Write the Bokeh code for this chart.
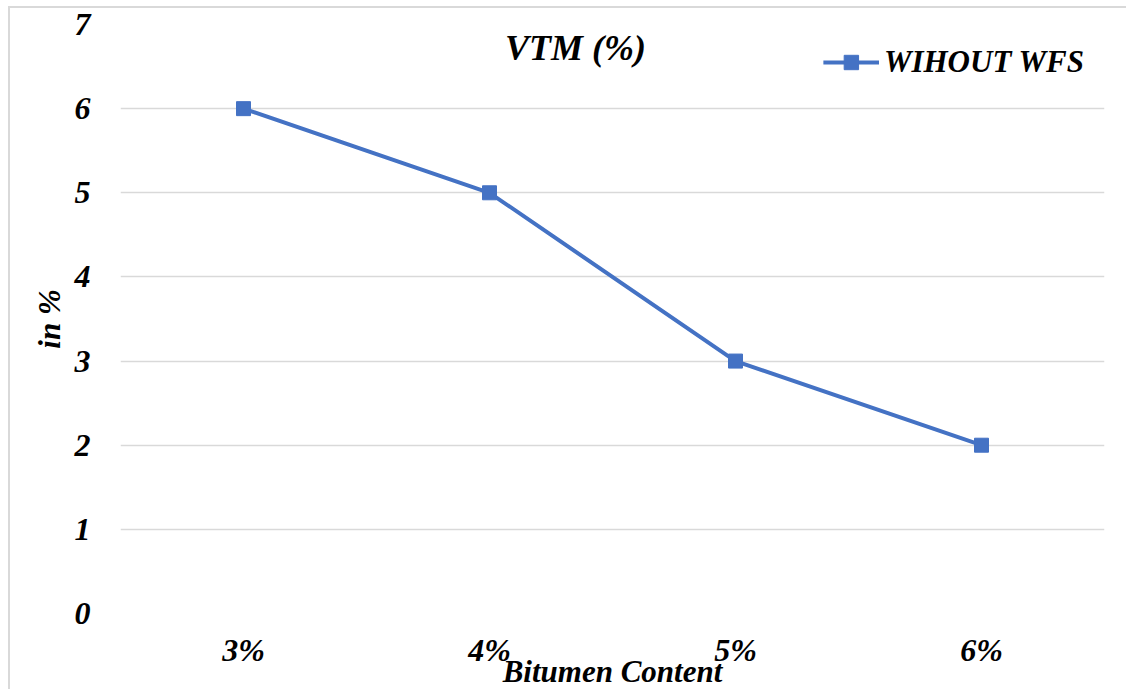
from bokeh.plotting import figure
from bokeh.models import Label, Legend, LegendItem, ColumnDataSource
from bokeh.embed import file_html
from bokeh.resources import INLINE

categories = ["3%", "4%", "5%", "6%"]
vtm = [6, 5, 3, 2]
series_name = "WIHOUT WFS"
chart_title = "VTM (%)"
x_title = "Bitumen Content"
y_title = "in %"

FONT = "Times New Roman"
BLUE = "#4472C4"

p = figure(x_range=categories, y_range=(0, 7), width=1118, height=683,
           output_backend="svg", toolbar_location=None,
           min_border_left=110, min_border_right=24, min_border_top=16, min_border_bottom=78)
p.margin = (6, 0, 0, 8)
p.styles = {"border-left": "2px solid #d9d9d9", "border-top": "2px solid #d9d9d9"}
p.outline_line_color = None

src = ColumnDataSource(dict(x=categories, y=vtm))
r_line = p.line("x", "y", source=src, line_color=BLUE, line_width=4)
r_pts = p.scatter("x", "y", source=src, marker="square", size=14, fill_color=BLUE, line_color=BLUE)

p.xgrid.grid_line_color = None
p.ygrid.grid_line_color = "#d9d9d9"
p.ygrid.grid_line_width = 1.5
p.yaxis.ticker = list(range(0, 8))

for ax in (p.xaxis[0], p.yaxis[0]):
    ax.axis_line_color = None
    ax.major_tick_line_color = None
    ax.minor_tick_line_color = None
    ax.major_label_text_font = FONT
    ax.major_label_text_font_style = "bold italic"
    ax.major_label_text_font_size = "32px"
    ax.major_label_text_color = "black"
    ax.axis_label_text_font = FONT
    ax.axis_label_text_font_style = "bold italic"
    ax.axis_label_text_font_size = "31px"
    ax.axis_label_text_color = "black"

p.yaxis.axis_label = y_title
p.yaxis.major_label_standoff = 24
p.yaxis.axis_label_standoff = 5
p.xaxis.axis_label = x_title
p.xaxis.major_label_standoff = 12
p.xaxis.axis_label_standoff = -17

title = Label(x=1.85, y=6.72, text=chart_title, text_font=FONT, text_font_style="bold italic",
              text_font_size="36px", text_align="center", text_baseline="alphabetic",
              text_color="black")
p.add_layout(title)

legend = Legend(items=[LegendItem(label=series_name, renderers=[r_line, r_pts])],
                location="top_right", border_line_color=None, background_fill_alpha=0,
                label_text_font=FONT, label_text_font_style="bold italic",
                label_text_font_size="31px", label_text_color="black",
                glyph_width=56, glyph_height=36,
                margin=20, padding=0, label_standoff=5)
p.add_layout(legend)

open("out.html", "w").write(file_html(p, INLINE))
